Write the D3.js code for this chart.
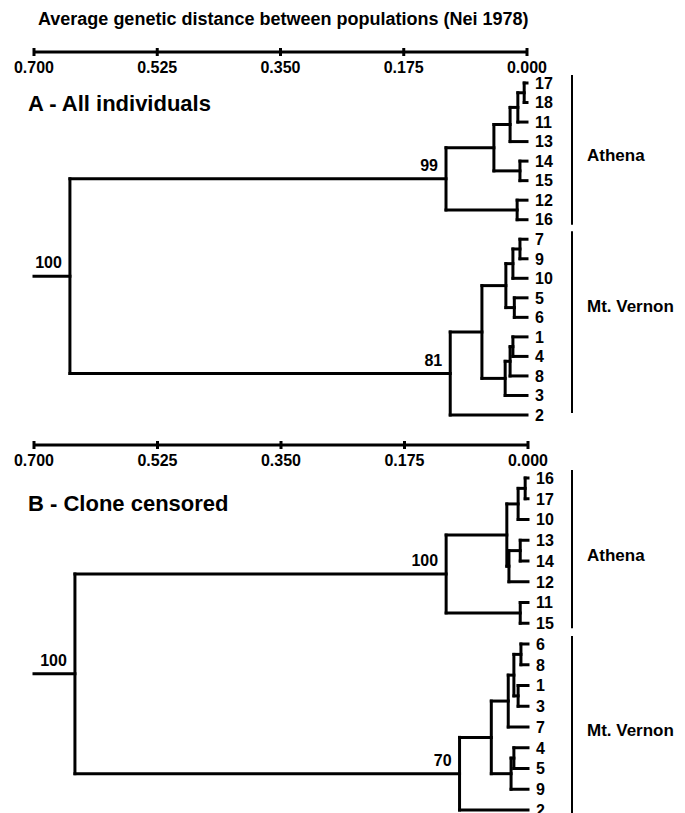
<!DOCTYPE html>
<html>
<head>
<meta charset="utf-8">
<script src="https://cdn.jsdelivr.net/npm/d3@7"></script>
<style>
  body { margin: 0; background: #fff; }
  svg { display: block; }
  .branch { fill: none; stroke: #000; stroke-width: 3; stroke-linecap: square; }
  .axis-line { stroke: #000; stroke-width: 3; }
  .axis-tick { stroke: #000; stroke-width: 3; }
  .tick-label { font-family: "Liberation Sans", Arial, sans-serif; font-weight: bold; font-size: 16px; }
  .leaf-label { font-family: "Liberation Sans Narrow", "Liberation Sans", Arial, sans-serif; font-size: 16px; font-weight: bold; }
  .boot { font-family: "Liberation Sans", Arial, sans-serif; font-weight: bold; font-size: 16px; }
  .group-bar { stroke: #000; stroke-width: 2; }
  .group-label { font-family: "Liberation Sans", Arial, sans-serif; font-weight: bold; font-size: 17px; }
  .panel-title { font-family: "Liberation Sans", Arial, sans-serif; font-weight: bold; font-size: 22px; }
  .main-title { font-family: "Liberation Sans", Arial, sans-serif; font-weight: bold; font-size: 18px; }
</style>
</head>
<body>
<div id="chart"></div>
<script>
var width = 685, height = 813;

// axis ticks (genetic distance)
var axisTicks = [0.700, 0.525, 0.350, 0.175, 0.000];

// Panel A - all individuals: leaf order top to bottom
var leavesA = ["17","18","11","13","14","15","12","16","7","9","10","5","6","1","4","8","3","2"];
// merges: [id, child1, child2, height, bootstrap]
var nodesA = [
  ["a1", "17", "18", 0.004, ""],
  ["a2", "a1", "11", 0.013, ""],
  ["a3", "a2", "13", 0.024, ""],
  ["a4", "14", "15", 0.010, ""],
  ["a5", "a3", "a4", 0.047, ""],
  ["a6", "12", "16", 0.014, ""],
  ["a7", "a5", "a6", 0.115, "99"],
  ["a8", "7", "9", 0.010, ""],
  ["a9", "a8", "10", 0.020, ""],
  ["a10", "5", "6", 0.018, ""],
  ["a11", "a9", "a10", 0.030, ""],
  ["a12", "1", "4", 0.020, ""],
  ["a13", "a12", "8", 0.024, ""],
  ["a14", "a13", "3", 0.031, ""],
  ["a15", "a11", "a14", 0.064, ""],
  ["a16", "a15", "2", 0.109, "81"],
  ["a17", "a7", "a16", 0.649, "100"]
];
var groupsA = [
  {name: "Athena", first: "17", last: "16"},
  {name: "Mt. Vernon", first: "7", last: "2"}
];

// Panel B - clone censored
var leavesB = ["16","17","10","13","14","12","11","15","6","8","1","3","7","4","5","9","2"];
var nodesB = [
  ["b1", "16", "17", 0.004, ""],
  ["b2", "b1", "10", 0.014, ""],
  ["b3", "13", "14", 0.011, ""],
  ["b4", "b3", "12", 0.027, ""],
  ["b5", "b2", "b4", 0.030, ""],
  ["b6", "11", "15", 0.011, ""],
  ["b7", "b5", "b6", 0.116, "100"],
  ["b8", "6", "8", 0.010, ""],
  ["b9", "1", "3", 0.014, ""],
  ["b10", "b8", "b9", 0.020, ""],
  ["b11", "b10", "7", 0.028, ""],
  ["b12", "4", "5", 0.020, ""],
  ["b13", "b12", "9", 0.024, ""],
  ["b14", "b11", "b13", 0.052, ""],
  ["b15", "b14", "2", 0.097, "70"],
  ["b16", "b7", "b15", 0.642, "100"]
];
var groupsB = [
  {name: "Athena", first: "16", last: "15"},
  {name: "Mt. Vernon", first: "6", last: "2"}
];

var rootStem = 0.700;

var svg = d3.select("#chart").append("svg")
  .attr("width", width)
  .attr("height", height);

svg.append("text")
  .attr("class", "main-title")
  .attr("x", 38)
  .attr("y", 25)
  .text("Average genetic distance between populations (Nei 1978)");

function drawPanel(cfg) {
  var g = svg.append("g");

  var x = d3.scaleLinear().domain([0.7, 0]).range([cfg.x0, cfg.x1]);
  var y = d3.scaleLinear().domain([0, cfg.leaves.length - 1]).range([cfg.yTop, cfg.yBottom]);

  // axis
  g.append("line")
    .attr("class", "axis-line")
    .attr("x1", x(0.7)).attr("x2", x(0))
    .attr("y1", cfg.axisY).attr("y2", cfg.axisY);
  g.selectAll(".axis-tick").data(axisTicks).enter().append("line")
    .attr("class", "axis-tick")
    .attr("x1", function(d) { return x(d); })
    .attr("x2", function(d) { return x(d); })
    .attr("y1", cfg.axisY - 4).attr("y2", cfg.axisY + 4);
  g.selectAll(".tick-label").data(axisTicks).enter().append("text")
    .attr("class", "tick-label")
    .attr("x", function(d) { return x(d); })
    .attr("y", cfg.axisY + 21)
    .attr("text-anchor", "middle")
    .text(function(d) { return d3.format(".3f")(d); });

  g.append("text")
    .attr("class", "panel-title")
    .attr("x", 28)
    .attr("y", cfg.titleY)
    .text(cfg.title);

  // positions of leaves and nodes
  var pos = {};
  cfg.leaves.forEach(function(name, i) {
    pos[name] = {x: x(0), y: y(i), h: 0};
  });
  cfg.nodes.forEach(function(n) {
    var c1 = pos[n[1]], c2 = pos[n[2]];
    var nx = x(n[3]);
    pos[n[0]] = {x: nx, y: (c1.y + c2.y) / 2, h: n[3]};
    // vertical connector
    g.append("line").attr("class", "branch")
      .attr("x1", nx).attr("x2", nx)
      .attr("y1", c1.y).attr("y2", c2.y);
    // horizontal branches to children
    [c1, c2].forEach(function(c) {
      g.append("line").attr("class", "branch")
        .attr("x1", nx).attr("x2", c.x)
        .attr("y1", c.y).attr("y2", c.y);
    });
    if (n[4]) {
      g.append("text")
        .attr("class", "boot")
        .attr("x", nx - 8)
        .attr("y", pos[n[0]].y - 8)
        .attr("text-anchor", "end")
        .text(n[4]);
    }
  });

  // root stem
  var root = pos[cfg.nodes[cfg.nodes.length - 1][0]];
  g.append("line").attr("class", "branch")
    .attr("x1", x(rootStem)).attr("x2", root.x)
    .attr("y1", root.y).attr("y2", root.y);

  // leaf labels
  g.selectAll(".leaf-label").data(cfg.leaves).enter().append("text")
    .attr("class", "leaf-label")
    .attr("x", x(0) + 8)
    .attr("y", function(d, i) { return y(i); })
    .attr("dy", "0.36em")
    .text(function(d) { return d; });

  // population bars
  cfg.groups.forEach(function(gr, k) {
    var y1 = pos[gr.first].y - 8, y2 = pos[gr.last].y + 5;
    if (gr.last === cfg.leaves[cfg.leaves.length - 1]) y2 = cfg.barEnd;
    g.append("line").attr("class", "group-bar")
      .attr("x1", 572).attr("x2", 572)
      .attr("y1", y1).attr("y2", y2);
    g.append("text")
      .attr("class", "group-label")
      .attr("x", 587)
      .attr("y", cfg.groupLabelY[k])
      .attr("dy", "0.36em")
      .text(gr.name);
  });
}

drawPanel({
  title: "A - All individuals", titleY: 111,
  x0: 34, x1: 527, axisY: 52,
  yTop: 83, yBottom: 415,
  leaves: leavesA, nodes: nodesA, groups: groupsA, barEnd: 413,
  groupLabelY: [155, 306]
});

drawPanel({
  title: "B - Clone censored", titleY: 511,
  x0: 34, x1: 528, axisY: 445,
  yTop: 478, yBottom: 810,
  leaves: leavesB, nodes: nodesB, groups: groupsB, barEnd: 813,
  groupLabelY: [555, 730]
});
</script>
</body>
</html>
